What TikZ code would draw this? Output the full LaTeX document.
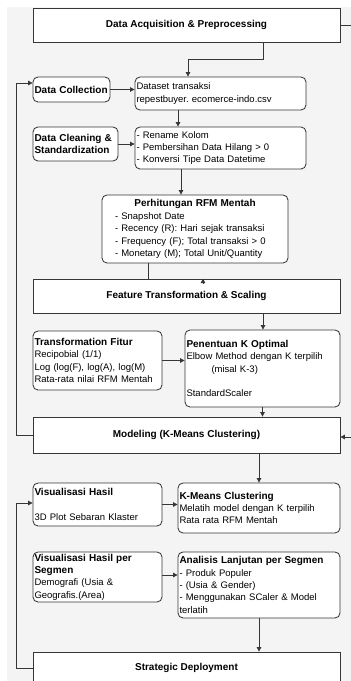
\documentclass[tikz,border=0pt]{standalone}
\usepackage{fontspec}
\setmainfont{Liberation Sans}
\usetikzlibrary{arrows.meta}
\definecolor{ln}{HTML}{363636}
\definecolor{bg}{HTML}{F4F4F4}
\newcommand\hd[1]{{\fontsize{10}{12.4}\selectfont\bfseries #1}}
\frenchspacing
\tikzset{
  base/.style={draw=ln, fill=white, line width=0.85pt, text=black,
    font=\fontsize{9.5}{12.4}\selectfont, inner xsep=1.5pt, inner ysep=0pt},
  sq/.style={base, align=center, minimum width=307pt},
  rb/.style={base, rounded corners=5pt, align=left},
  conn/.style={draw=ln, line width=0.85pt},
  arr/.style={conn, -{Triangle[length=4.5pt,width=4.5pt]}}
}
\begin{document}
\begin{tikzpicture}[x=1pt,y=-1pt]
\useasboundingbox (0,0) rectangle (351,681);
\clip (0,0) rectangle (351,681);
\fill[bg] (7,7) rectangle (351,681);
% boxes
\node[sq, minimum height=34pt] (acq) at (186.5,25) {\hd{Data Acquisition \& Preprocessing}};
\node[rb, text width=74pt, minimum height=25pt] (coll) at (71.5,89.5) {\hd{Data Collection}};
\node[rb, text width=168pt, minimum height=33pt] (data) at (220.5,93.5) {Dataset transaksi\\repestbuyer. ecomerce-indo.csv};
\node[rb, text width=82pt, minimum height=34pt] (clean) at (75.5,144) {\hd{Data Cleaning \&}\\\hd{Standardization}};
\node[rb, text width=168pt, minimum height=42pt] (cleantxt) at (220.5,148) {- Rename Kolom\\- Pembersihan Data Hilang > 0\\- Konversi Tipe Data Datetime};
\node[rb, text width=160pt, inner xsep=13pt, minimum height=68pt] (rfm) at (195,229) {\makebox[160pt][c]{\hd{Perhitungan RFM Mentah}}\\- Snapshot Date\\- Recency (R): Hari sejak transaksi\\- Frequency (F); Total transaksi > 0\\- Monetary (M); Total Unit/Quantity};
\node[sq, minimum height=34pt] (feat) at (186.5,296) {\hd{Feature Transformation \& Scaling}};
\node[rb, text width=126pt, minimum height=59pt] (trans) at (97.5,360.5) {\hd{Transformation Fitur}\\Recipobial (1/1)\\Log (log(F), log(A), log(M)\\Rata-rata nilai RFM Mentah};
\node[rb, text width=152pt, minimum height=77pt] (kopt) at (262.5,368.5) {\hd{Penentuan K Optimal}\\Elbow Method dengan K terpilih\\\hspace*{25pt}(misal K-3)\\\mbox{}\\StandardScaler};
\node[sq, minimum height=36pt] (model) at (186.5,435) {\hd{Modeling (K-Means Clustering)}};
\node[rb, text width=126pt, minimum height=43pt] (vis) at (97.5,504.5) {\hd{Visualisasi Hasil}\\\mbox{}\\3D Plot Sebaran Klaster};
\node[rb, text width=159pt, minimum height=50pt] (kmeans) at (259,508) {\hd{K-Means Clustering}\\Melatih model dengan K terpilih\\Rata rata RFM Mentah};
\node[rb, text width=126pt, minimum height=50pt] (visseg) at (97.5,577) {\hd{Visualisasi Hasil per}\\\hd{Segmen}\\Demografi (Usia \&\\Geografis.(Area)};
\node[rb, text width=159pt, minimum height=66pt] (anal) at (259,585) {\hd{Analisis Lanjutan per Segmen}\\- Produk Populer\\- (Usia \& Gender)\\- Menggunakan SCaler \& Model\\terlatih};
\node[sq, minimum height=32pt] (strat) at (186.5,668) {\hd{Strategic Deployment}};
% connectors
\draw[arr] ([xshift=76.5pt]acq.south) -- ++(0,17) -| ([xshift=-32.5pt]data.north);
\draw[arr] (coll.east) -- (coll.east -| data.west);
\draw[arr] ([xshift=-42.5pt]data.south) -- ([xshift=-42.5pt]cleantxt.north);
\draw[arr] (clean.east) -- (clean.east -| cleantxt.west);
\draw[arr] ([xshift=-39.5pt]cleantxt.south) -- ([xshift=-39.5pt]cleantxt.south |- rfm.north);
\draw[conn] ([xshift=-47pt]rfm.south) -- ([xshift=-47pt]rfm.south |- feat.north);
\draw[arr] ([xshift=16.5pt,yshift=-5pt]feat.north) -- ([xshift=16.5pt]feat.north);
\draw[arr] ([xshift=76.5pt]feat.south) -- ([xshift=76.5pt]feat.south |- kopt.north);
\draw[arr] (trans.east) -- (trans.east -| kopt.west);
\draw[arr] (kopt.south) -- (kopt.south |- model.north);
\draw[arr] (kmeans.north |- model.south) -- (kmeans.north);
\draw[arr] (vis.east) -- (vis.east -| kmeans.west);
\draw[arr] ([yshift=2pt]visseg.east) -- ([yshift=2pt]visseg.east -| anal.west);
\draw[arr] (anal.south) -- (anal.south |- strat.north);
% loops
\draw[arr] (model.west) -- ++(-16,0) |- ([yshift=6.5pt]coll.west);
\draw[arr] (strat.west) -- ++(-16,0) |- ([yshift=1.5pt]vis.west);
\draw[arr] (acq.east) -- ++(20,0) |- ([yshift=-2pt]model.east);
\end{tikzpicture}
\end{document}
